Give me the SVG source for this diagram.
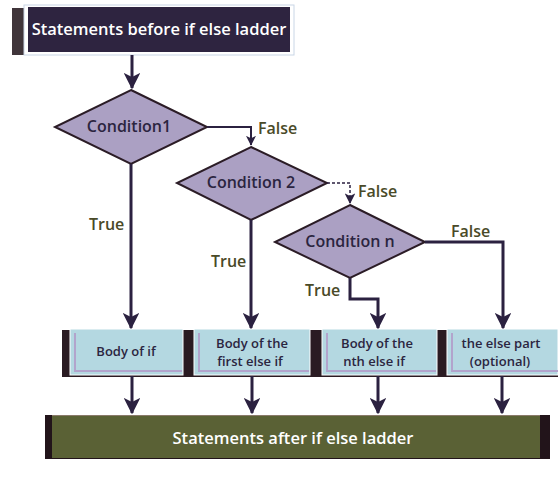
<svg xmlns="http://www.w3.org/2000/svg" width="558" height="482" viewBox="0 0 558 482">
<defs>
<style>
.ln{stroke:#2b2140;stroke-width:3;fill:none}
.thin{stroke:#2b2140;stroke-width:2;fill:none}
.dash{stroke:#2b2140;stroke-width:1.5;fill:none;stroke-dasharray:3,2}
.dia{fill:#aba0c3;stroke:#2b1c26;stroke-width:2}
.dt{font-family:"Open Sans","Noto Sans",sans-serif;font-weight:600;font-size:16px;fill:#2b2540;text-anchor:middle}
.lbl{font-family:"Open Sans","Noto Sans",sans-serif;font-weight:600;font-size:16px;fill:#4a4a28}
.bx{fill:#b4d8e1;stroke:#ffffff;stroke-width:1}
.bs{fill:#2a1b22}
.bt{font-family:"Open Sans","Noto Sans",sans-serif;font-weight:600;font-size:13px;fill:#2b2540;text-anchor:middle}
.wt{font-family:"Open Sans","Noto Sans",sans-serif;font-weight:600;font-size:16.5px;fill:#ffffff;text-anchor:middle}
</style>
<marker id="ah" viewBox="0 0 12 12" refX="11" refY="6" markerWidth="5.5" markerHeight="5.5" orient="auto" markerUnits="strokeWidth">
<path d="M0,0 L12,6 L0,12 L3,6 z" fill="#2b2140"/>
</marker>
<marker id="ahs" viewBox="0 0 12 12" refX="11" refY="6" markerWidth="5" markerHeight="5" orient="auto" markerUnits="strokeWidth">
<path d="M0,0 L12,6 L0,12 L3,6 z" fill="#2b2140"/>
</marker>
<marker id="ahd" viewBox="0 0 12 12" refX="11" refY="6" markerWidth="7" markerHeight="7" orient="auto" markerUnits="strokeWidth">
<path d="M0,0 L12,6 L0,12 L3,6 z" fill="#2b2140"/>
</marker>
</defs>

<g id="start">
<rect x="12" y="8" width="18" height="47" fill="#1e1218" opacity="0.85"/>
<rect x="24" y="5" width="270" height="50" fill="#ffffff" stroke="#c9d6e6" stroke-width="1"/>
<rect x="28" y="7" width="262" height="45" fill="#2e2440"/>
<text class="wt" x="159" y="35">Statements before if else ladder</text>
</g>

<g id="cond1">
<polygon class="dia" points="131,90 207,127 131,164 55,127"/>
<text class="dt" x="129" y="132">Condition1</text>
</g>

<g id="cond2">
<polygon class="dia" points="251,147 327,183 251,220 177,183"/>
<text class="dt" x="251" y="188">Condition 2</text>
</g>

<g id="condn">
<polygon class="dia" points="350,205 425,242 350,278 275,242"/>
<text class="dt" x="350" y="247">Condition n</text>
</g>

<g id="body1">
<rect class="bs" x="62" y="330" width="126" height="47"/>
<rect class="bx" x="70" y="329" width="113" height="46"/>
<path d="M75,333 V371 H182" stroke="#b2a4cc" stroke-width="2" fill="none"/>
<text class="bt" x="126" y="356">Body of if</text>
</g>

<g id="body2">
<rect class="bs" x="186" y="330" width="128" height="47"/>
<rect class="bx" x="194" y="329" width="116" height="46"/>
<path d="M199,333 V371 H309" stroke="#b2a4cc" stroke-width="2" fill="none"/>
<text class="bt" x="252" y="348">Body of the</text>
<text class="bt" x="250" y="366">first else if</text>
</g>

<g id="body3">
<rect class="bs" x="314" y="330" width="128" height="47"/>
<rect class="bx" x="322" y="329" width="115" height="46"/>
<path d="M327,333 V371 H436" stroke="#b2a4cc" stroke-width="2" fill="none"/>
<text class="bt" x="377" y="348">Body of the</text>
<text class="bt" x="374" y="366">nth else if</text>
</g>

<g id="body4">
<rect class="bs" x="440" y="330" width="118" height="47"/>
<rect class="bx" x="447" y="329" width="111" height="46"/>
<path d="M452,333 V371 H558" stroke="#b2a4cc" stroke-width="2" fill="none"/>
<text class="bt" x="501" y="348">the else part</text>
<text class="bt" x="500" y="366">(optional)</text>
</g>

<g id="end">
<rect x="45" y="415" width="505" height="44" fill="#22141a"/>
<rect x="52" y="415" width="488" height="43" fill="#5a6135"/>
<line x1="52" y1="415.5" x2="540" y2="415.5" stroke="#8a7a6a" stroke-width="1"/>
<text class="wt" x="293" y="444">Statements after if else ladder</text>
</g>

<g id="connectors">
<path class="ln" d="M132,55 V88" marker-end="url(#ah)"/>
<path class="ln" d="M131,164 V328" marker-end="url(#ah)"/>
<path class="thin" d="M207,127 H251 V145" marker-end="url(#ahs)"/>
<path class="ln" d="M251,220 V328" marker-end="url(#ah)"/>
<path class="dash" d="M327,183 H350 V203" marker-end="url(#ahd)"/>
<path class="ln" d="M350,278 V299 H378 V328" marker-end="url(#ah)"/>
<path class="ln" d="M425,242 H503 V328" marker-end="url(#ah)"/>
<path class="ln" d="M132,376 V413" marker-end="url(#ah)"/>
<path class="ln" d="M252,376 V413" marker-end="url(#ah)"/>
<path class="ln" d="M378,376 V413" marker-end="url(#ah)"/>
<path class="ln" d="M502,376 V413" marker-end="url(#ah)"/>
<text class="lbl" x="258" y="134">False</text>
<text class="lbl" x="358" y="197">False</text>
<text class="lbl" x="451" y="237">False</text>
<text class="lbl" x="89" y="230">True</text>
<text class="lbl" x="211" y="267">True</text>
<text class="lbl" x="305" y="296">True</text>
</g>
</svg>
